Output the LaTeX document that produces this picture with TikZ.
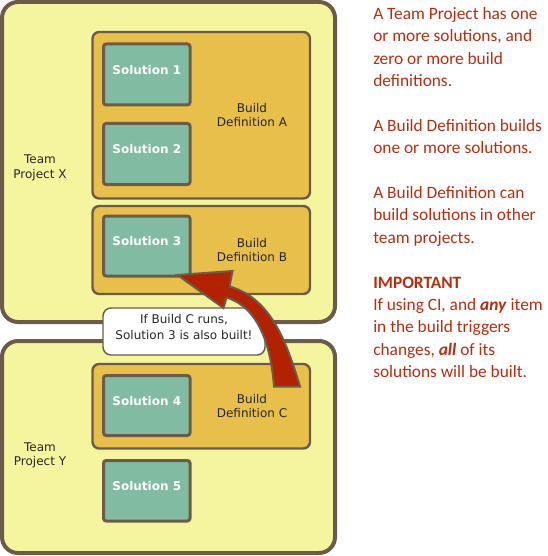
\documentclass[tikz,border=0pt]{standalone}
\usepackage{fontspec}
\setmainfont{DejaVu Sans}
\newfontfamily\notefont{Carlito}
\usetikzlibrary{fit,positioning}
\definecolor{edgebrown}{RGB}{107,91,74}
\definecolor{projyellow}{RGB}{245,245,160}
\definecolor{buildgold}{RGB}{233,191,75}
\definecolor{solgreen}{RGB}{128,187,162}
\definecolor{arrowred}{RGB}{178,34,0}
\definecolor{notered}{RGB}{183,45,15}

\begin{document}
\begin{tikzpicture}[x=0.75pt, y=-0.75pt, font=\fontsize{9}{11.2}\selectfont,
    project/.style={draw=edgebrown, fill=projyellow, line width=3pt, rounded corners=12pt, inner sep=0pt},
    builddef/.style={draw=edgebrown, fill=buildgold, line width=1.8pt, rounded corners=5pt, inner sep=0pt},
    solution/.style={draw=edgebrown, fill=solgreen, line width=2.25pt, rounded corners=2pt, inner sep=0pt,
      font=\fontsize{9}{11}\selectfont\bfseries, text=white, text depth=4.5pt},
    teamlabel/.style={align=center, text=black!85, font=\fontsize{9}{10.9}\selectfont},
    deflabel/.style={align=center, text=black!85},
    bubble/.style={draw=edgebrown, fill=white, line width=1.1pt, rounded corners=6pt, inner sep=0pt,
      align=center, text=black!85, font=\fontsize{9}{12}\selectfont},
    note/.style={align=left, inner sep=0pt, text=notered, font=\notefont\fontsize{13}{16.8}\selectfont}]
  \useasboundingbox (0,0) rectangle (547,556);

  % team projects
  \node[project, fit={(2,2) (335,322)}] (projX) {};
  \node[project, fit={(2,341) (335,553)}] (projY) {};
  \node[teamlabel] (labX) at (40,168) {Team\\Project X};
  \node[teamlabel] (labY) at (40,455.5) {Team\\Project Y};

  % build definitions
  \node[builddef, fit={(92.5,32) (310,198.5)}] (defA) {};
  \node[builddef, fit={(92.5,206) (310,294)}] (defB) {};
  \node[builddef, fit={(92.5,364) (310,448.5)}] (defC) {};
  \node[deflabel] at (252,115) {Build\\Definition A};
  \node[deflabel] at (252,250) {Build\\Definition B};
  \node[deflabel] at (252,406) {Build\\Definition C};

  % solutions
  \node[solution, fit={(103.5,44) (190,105)}] (sol1) {Solution 1};
  \node[solution, fit={(103.5,123.5) (190,184.5)}] (sol2) {Solution 2};
  \node[solution, fit={(103.5,216) (190,276)}] (sol3) {Solution 3};
  \node[solution, fit={(103.5,375.5) (190,435.5)}] (sol4) {Solution 4};
  \node[solution, fit={(103.5,460.5) (190,521)}] (sol5) {Solution 5};

  % callout and the arrow from C to solution 3
  \node[bubble, fit={(103,308) (265,355)}] (callC) {If Build C runs,\\Solution 3 is also built!};
  \coordinate (tip) at (177.5,275);
  \draw[draw=edgebrown, fill=arrowred, line width=1.5pt]
    (274,386.5) -- (300,386.5) .. controls (287,344.3) and (272.2,298.6) .. (229.5,286.5)
    -- (232.5,271) -- (tip) -- (223.5,308) -- (226.5,297.5)
    .. controls (259.6,307.8) and (270.9,347) .. (274,386.5) -- cycle;

  % notes
  \node[note, anchor=north west] (notes) at (373,7) {A Team Project has one\\or more solutions, and\\zero or more build\\definitions.\\[16.8pt]
    A Build Definition builds\\one or more solutions.\\[16.8pt]
    A Build Definition can\\build solutions in other\\team projects.\\[16.8pt]
    \textbf{IMPORTANT}\\If using CI, and \textbf{\textit{any}} item\\in the build triggers\\changes, \textbf{\textit{all}} of its\\solutions will be built.};
\end{tikzpicture}
\end{document}
